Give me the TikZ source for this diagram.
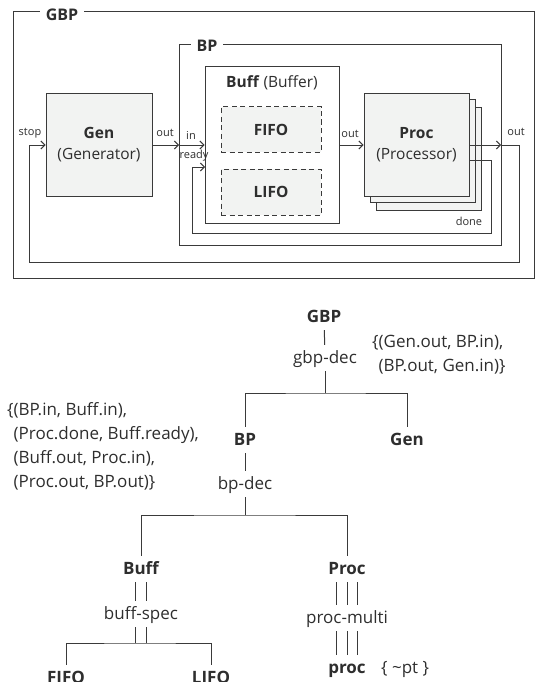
\documentclass[tikz,border=0pt]{standalone}
\usepackage{fontspec}
\setmainfont{Open Sans}
\usetikzlibrary{arrows.meta}
\definecolor{linegray}{HTML}{3A3A3A}
\definecolor{boxfill}{HTML}{F2F3F2}
\definecolor{txtgray}{HTML}{2E2E2E}
\tikzset{
  >={Straight Barb[length=4pt,width=8pt]},
  frm/.style={draw=linegray, line width=1pt},
  wire/.style={draw=linegray, line width=1pt},
  blk/.style={frm, fill=boxfill, inner sep=0pt, align=center, text=txtgray,
    font=\fontsize{15.5}{21}\selectfont},
  sub/.style={blk, dash pattern=on 5pt off 3.5pt},
  ttl/.style={fill=white, inner xsep=6pt, inner ysep=2pt, text=txtgray,
    font=\fontsize{16}{19}\selectfont\bfseries},
  port/.style={inner sep=1pt, text=txtgray, font=\fontsize{11}{13}\selectfont},
  tree/.style={inner sep=4pt, text height=14pt, text depth=4pt, anchor=base,
    text=txtgray, font=\fontsize{17}{24}\selectfont},
  treeb/.style={tree, font=\fontsize{17}{24}\selectfont\bfseries},
  note/.style={inner sep=0pt, align=left, text=txtgray,
    font=\fontsize{17}{24}\selectfont}
}
\begin{document}
\begin{tikzpicture}[x=1pt,y=-1pt]
\useasboundingbox (0,0) rectangle (543,682);
\clip (0,0) rectangle (543,682);

\draw[frm] (13,12) rectangle (534,278);
\node[ttl] (gbpLbl) at (62,15) {GBP};
\draw[frm] (179,45) rectangle (501,245);
\node[ttl] (bpLbl) at (207,46) {BP};

\node[blk, minimum width=134pt, minimum height=156pt, fill=white] (buff) at (272,145) {};
\node[text=txtgray, font=\fontsize{15.5}{19}\selectfont] (buffLbl) at (272,83) {\textbf{Buff} (Buffer)};
\node[sub, minimum width=100pt, minimum height=45pt] (fifo) at (271,129.5) {\textbf{FIFO}};
\node[sub, minimum width=100pt, minimum height=46pt] (lifo) at (271,192) {\textbf{LIFO}};

\node[blk, minimum width=106pt, minimum height=102pt] (gen) at (99,145) {\textbf{Gen}\\(Generator)};
\node[blk, minimum width=105pt, minimum height=102pt] (proc3) at (428.5,159) {};
\node[blk, minimum width=105pt, minimum height=102pt] (proc2) at (422.5,151) {};
\node[blk, minimum width=105pt, minimum height=102pt] (proc) at (416.5,145) {\textbf{Proc}\\(Processor)};

\coordinate (bpIn) at (179,145);
\coordinate (bpOut) at (501,145);
\coordinate (procDone) at (469,160);
\coordinate (buffReady) at (205,167);

\draw[wire,->] (gen.east) -- (bpIn);
\draw[wire,->] (bpIn) -- (buff.west);
\draw[wire,->] (buff.east) -- (proc.west);
\draw[wire,->] (proc.east) -- (bpOut);
\draw[wire,->] (bpOut) -| (519,262) -| (29,145) -- (gen.west);
\draw[wire,->] (procDone) -| (491,233) -| (192,167) -- (buffReady);

\node[port] (stopLbl) at (30,133) {stop};
\node[port] (genOut) at (165,133) {out};
\node[port] (bpInLbl) at (191,135) {in};
\node[port] (readyLbl) at (194,156) {ready};
\node[port] (buffOut) at (350,134) {out};
\node[port] (bpOutLbl) at (516,132) {out};
\node[port] (doneLbl) at (469,221) {done};

\node[treeb] (gbpT) at (324,322) {GBP};
\node[tree] (gbpDec) at (325,363) {gbp-dec};
\node[treeb] (bpT) at (245,445) {BP};
\node[treeb] (genT) at (407,445) {Gen};
\node[tree] (bpDec) at (245,489) {bp-dec};
\node[treeb] (buffT) at (141,574) {Buff};
\node[treeb] (procT) at (347,574) {Proc};
\node[tree] (buffSpec) at (141,619) {buff-spec};
\node[tree] (procMulti) at (347,623) {proc-multi};
\node[treeb] (procLeaf) at (347,673) {proc};
\node[tree, anchor=base west] (procPt) at (377,673) {\{ \textasciitilde pt \}};
\node[treeb] (fifoT) at (66,683) {FIFO};
\node[treeb] (lifoT) at (211,683) {LIFO};

\node[note, anchor=west] (gbpCpl) at (372,355) {\{(Gen.out, BP.in),\\\phantom{\{}(BP.out, Gen.in)\}};
\node[note, anchor=west] (bpCpl) at (7,446) {\{(BP.in, Buff.in),\\\phantom{\{}(Proc.done, Buff.ready),\\\phantom{\{}(Buff.out, Proc.in),\\\phantom{\{}(Proc.out, BP.out)\}};

\coordinate (gbpFork) at (325,393);
\coordinate (bpFork) at (245,515);
\coordinate (buffFork) at (141,643);

\draw[wire] (gbpT) -- (gbpDec);
\draw[wire] (gbpDec) -- (gbpFork);
\draw[wire] (bpT) |- (gbpFork) -| (genT);
\draw[wire] (bpT) -- (bpDec);
\draw[wire] (bpDec) -- (bpFork);
\draw[wire] (buffT) |- (bpFork) -| (procT);
\foreach \dx in {-5.5,5.5} {
  \draw[wire] ([xshift=\dx pt]buffT.south) -- ([xshift=\dx pt]buffSpec.north);
  \draw[wire] ([xshift=\dx pt]buffSpec.south) -- ([xshift=\dx pt]buffFork);
}
\draw[wire] (fifoT) |- (buffFork) -| (lifoT);
\foreach \dx in {-10.5,0,10.5} {
  \draw[wire] ([xshift=\dx pt]procT.south) -- ([xshift=\dx pt]procMulti.north);
  \draw[wire] ([xshift=\dx pt]procMulti.south) -- ([xshift=\dx pt]procLeaf.north);
}
\end{tikzpicture}
\end{document}
